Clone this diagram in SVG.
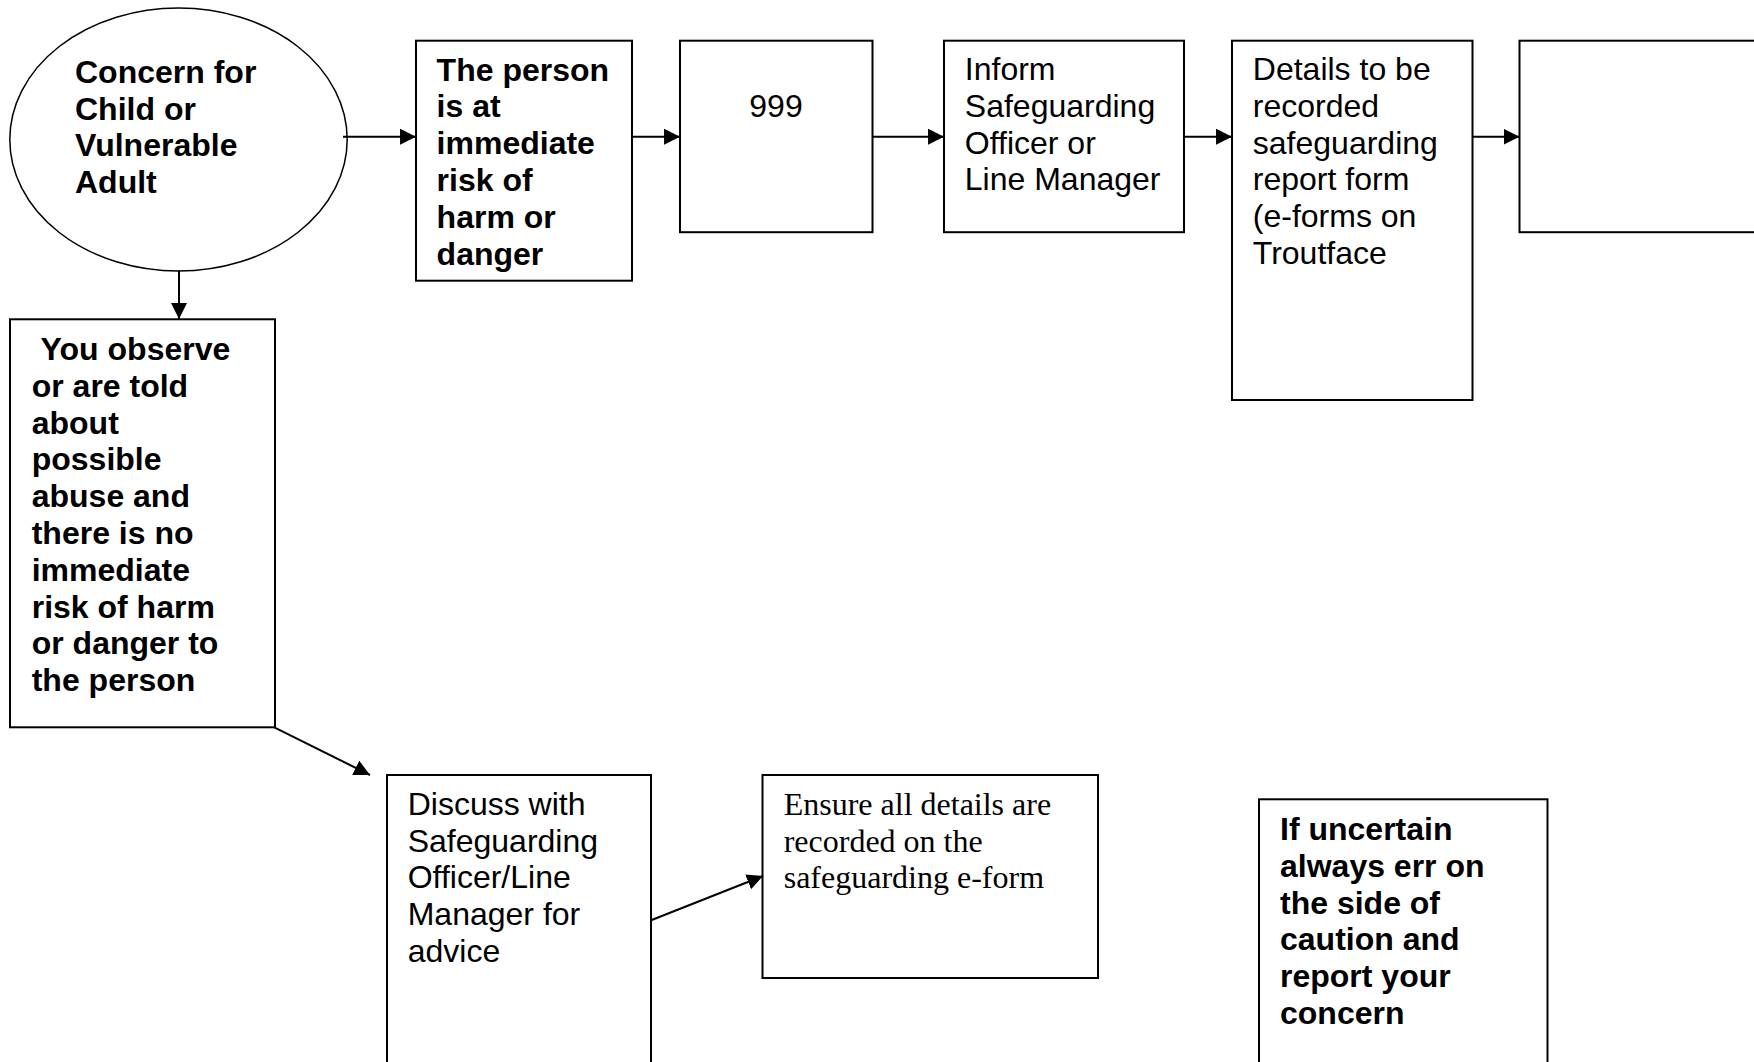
<svg xmlns="http://www.w3.org/2000/svg" width="1754" height="1062" viewBox="0 0 1754 1062">
<style>
.shape{fill:#fff;stroke:#000;stroke-width:2}
.ell{fill:#fff;stroke:#000;stroke-width:1.5}
.b{font-family:"Liberation Sans",Arial,sans-serif;font-size:32px;font-weight:bold;fill:#000}
.r{font-family:"Liberation Sans",Arial,sans-serif;font-size:32px;fill:#000}
.s{font-family:"Liberation Serif","Times New Roman",serif;font-size:32px;fill:#000}
.conn{stroke:#000;stroke-width:2;fill:none;marker-end:url(#ah)}
</style>
<defs>
<marker id="ah" markerUnits="userSpaceOnUse" markerWidth="18" markerHeight="18" refX="16" refY="8" orient="auto">
<path d="M0,0 L16,8 L0,16 z" fill="#000"/>
</marker>
</defs>
<rect width="1754" height="1062" fill="#fff"/>
<g id="concern">
<ellipse class="ell" cx="178.5" cy="139.5" rx="168.7" ry="131.5"/>
<text class="b"><tspan x="75" y="82.7">Concern for</tspan><tspan x="75" y="119.5">Child or</tspan><tspan x="75" y="156.3">Vulnerable</tspan><tspan x="75" y="193.1">Adult</tspan></text>
</g>
<g id="immediate-risk">
<rect class="shape" x="416" y="40.7" width="216" height="240"/>
<text class="b"><tspan x="436.6" y="80.5">The person</tspan><tspan x="436.6" y="117.3">is at</tspan><tspan x="436.6" y="154.1">immediate</tspan><tspan x="436.6" y="190.9">risk of</tspan><tspan x="436.6" y="227.7">harm or</tspan><tspan x="436.6" y="264.5">danger</tspan></text>
</g>
<g id="call-999">
<rect class="shape" x="680" y="40.7" width="192.5" height="191.5"/>
<text class="r" x="776" y="116.8" text-anchor="middle">999</text>
</g>
<g id="inform">
<rect class="shape" x="944" y="40.7" width="240" height="191.5"/>
<text class="r"><tspan x="964.8" y="80">Inform</tspan><tspan x="964.8" y="116.8">Safeguarding</tspan><tspan x="964.8" y="153.6">Officer or</tspan><tspan x="964.8" y="190.4">Line Manager</tspan></text>
</g>
<g id="details">
<rect class="shape" x="1232" y="40.7" width="240.5" height="359.3"/>
<text class="r"><tspan x="1252.8" y="80">Details to be</tspan><tspan x="1252.8" y="116.8">recorded</tspan><tspan x="1252.8" y="153.6">safeguarding</tspan><tspan x="1252.8" y="190.4">report form</tspan><tspan x="1252.8" y="227.2">(e-forms on</tspan><tspan x="1252.8" y="264">Troutface</tspan></text>
</g>
<g id="empty-box">
<rect class="shape" x="1519.5" y="40.7" width="260" height="191.5"/>
</g>
<g id="no-immediate-risk">
<rect class="shape" x="10" y="319.3" width="265" height="408"/>
<text class="b"><tspan x="40.6" y="360">You observe</tspan><tspan x="31.7" y="396.8">or are told</tspan><tspan x="31.7" y="433.6">about</tspan><tspan x="31.7" y="470.4">possible</tspan><tspan x="31.7" y="507.2">abuse and</tspan><tspan x="31.7" y="544">there is no</tspan><tspan x="31.7" y="580.8">immediate</tspan><tspan x="31.7" y="617.6">risk of harm</tspan><tspan x="31.7" y="654.4">or danger to</tspan><tspan x="31.7" y="691.2">the person</tspan></text>
</g>
<g id="discuss">
<rect class="shape" x="387" y="775" width="264" height="300"/>
<text class="r"><tspan x="407.7" y="815">Discuss with</tspan><tspan x="407.7" y="851.7">Safeguarding</tspan><tspan x="407.7" y="888.4">Officer/Line</tspan><tspan x="407.7" y="925.1">Manager for</tspan><tspan x="407.7" y="961.8">advice</tspan></text>
</g>
<g id="ensure">
<rect class="shape" x="762.5" y="775" width="335.5" height="203"/>
<text class="s"><tspan x="783.7" y="815">Ensure all details are</tspan><tspan x="783.7" y="851.7">recorded on the</tspan><tspan x="783.7" y="888.4">safeguarding e-form</tspan></text>
</g>
<g id="uncertain">
<rect class="shape" x="1259" y="799.3" width="288.5" height="280"/>
<text class="b"><tspan x="1280" y="840">If uncertain</tspan><tspan x="1280" y="876.8">always err on</tspan><tspan x="1280" y="913.6">the side of</tspan><tspan x="1280" y="950.4">caution and</tspan><tspan x="1280" y="987.2">report your</tspan><tspan x="1280" y="1024">concern</tspan></text>
</g>
<g id="connectors">
<line class="conn" x1="343" y1="136.7" x2="416" y2="136.7"/>
<line class="conn" x1="632" y1="136.7" x2="680" y2="136.7"/>
<line class="conn" x1="872.5" y1="136.7" x2="944" y2="136.7"/>
<line class="conn" x1="1184" y1="136.7" x2="1232" y2="136.7"/>
<line class="conn" x1="1472.5" y1="136.7" x2="1519.5" y2="136.7"/>
<line class="conn" x1="179" y1="270.7" x2="179" y2="319"/>
<line class="conn" x1="274.3" y1="727.3" x2="370" y2="775"/>
<line class="conn" x1="651.7" y1="920" x2="763" y2="876"/>
</g>
</svg>
